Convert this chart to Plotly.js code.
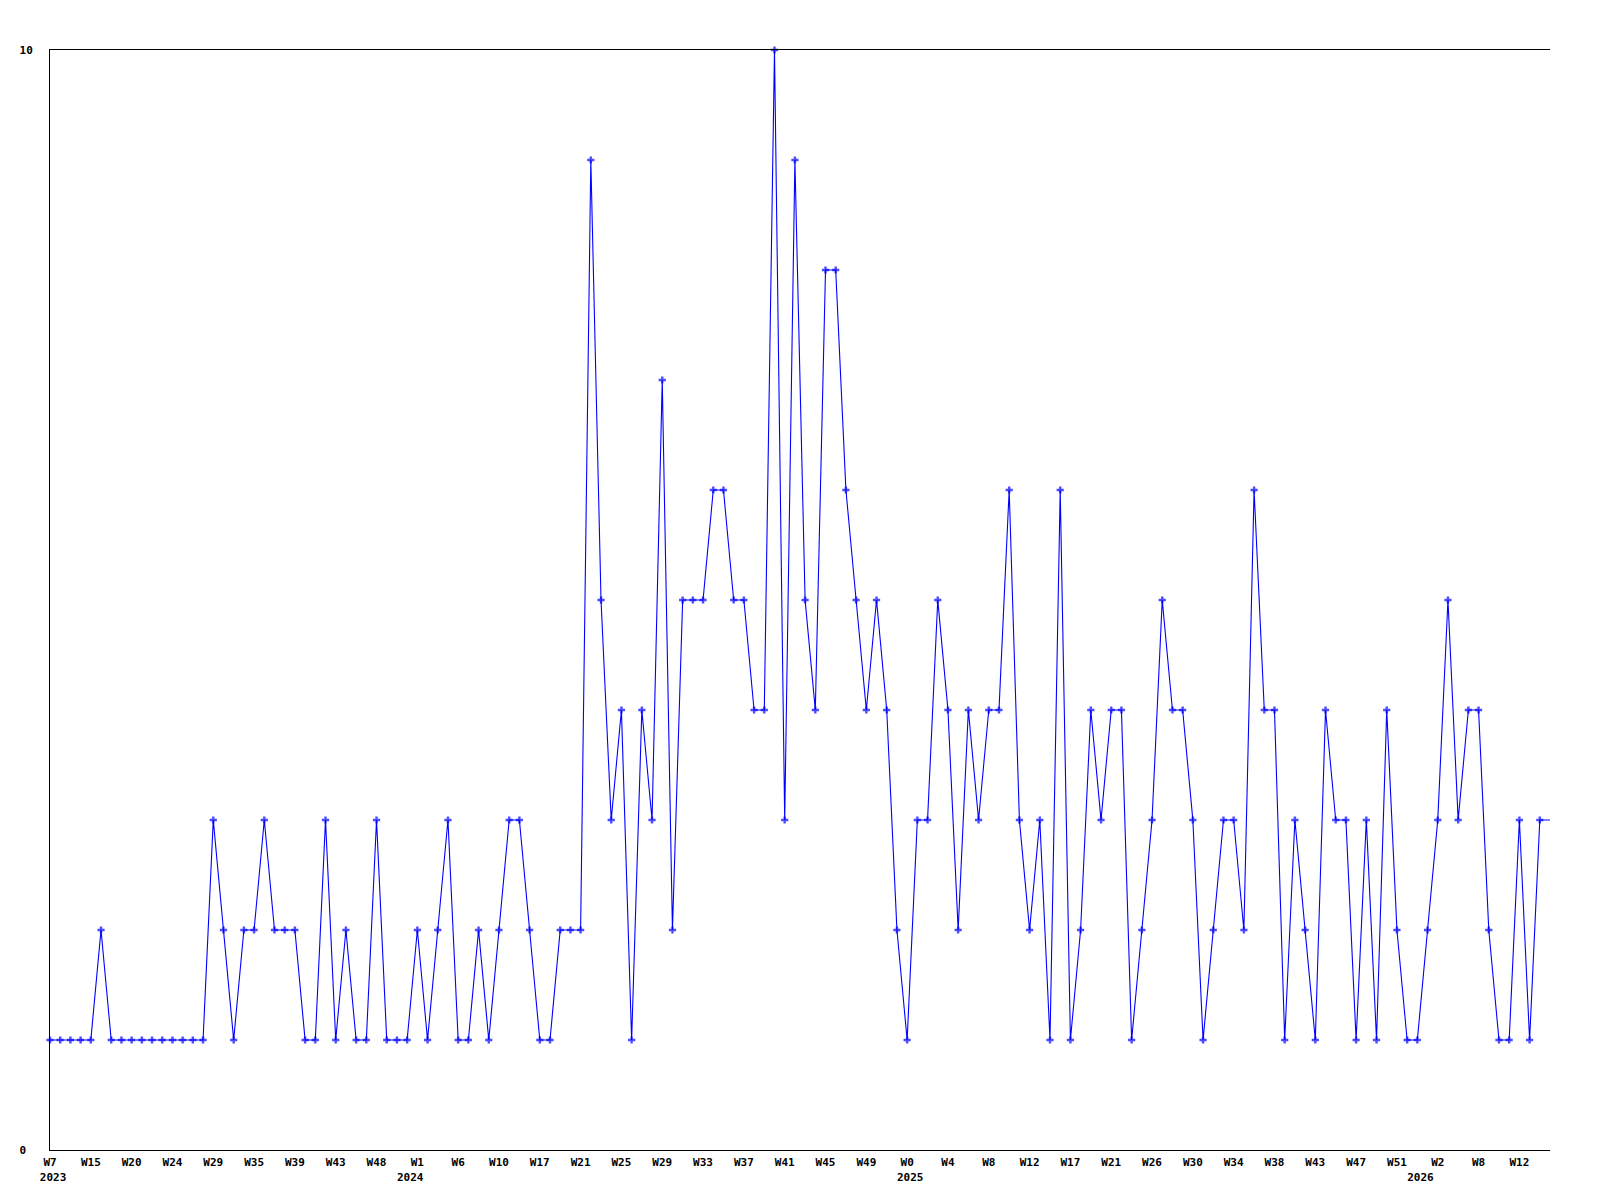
<!DOCTYPE html>
<html>
<head>
<meta charset="utf-8">
<script src="https://cdn.plot.ly/plotly-3.0.1.min.js"></script>
<style>
  html, body { margin: 0; padding: 0; background: #ffffff; }
  #chart { width: 1600px; height: 1200px; }
</style>
</head>
<body>
<div id="chart"></div>
<script>
// Weekly counts, one value per point
const values = [
  1,1,1,1,1,2,1,1,1,1,
  1,1,1,1,1,1,3,2,1,2,
  2,3,2,2,2,1,1,3,1,2,
  1,1,3,1,1,1,2,1,2,3,
  1,1,2,1,2,3,3,2,1,1,
  2,2,2,9,5,3,4,1,4,3,
  7,2,5,5,5,6,6,5,5,4,
  4,10,3,9,5,4,8,8,6,5,
  4,5,4,2,1,3,3,5,4,2,
  4,3,4,4,6,3,2,3,1,6,
  1,2,4,3,4,4,1,2,3,5,
  4,4,3,1,2,3,3,2,6,4,
  4,1,3,2,1,4,3,3,1,3,
  1,4,2,1,1,2,3,5,3,4,
  4,2,1,1,3,1,3,3
];

// Week tick labels: one every 4th point
const weekLabels = ["W7","W15","W20","W24","W29","W35","W39","W43","W48",
  "W1","W6","W10","W17","W21","W25","W29","W33","W37","W41","W45","W49",
  "W0","W4","W8","W12","W17","W21","W26","W30","W34","W38","W43","W47","W51",
  "W2","W8","W12"];
const tickStep = 4;

// Year labels, at the first point of each year
const yearLabels = ["2023", "2024", "2025", "2026"];
const yearStartIndex = [0, 35, 84, 134];

const yTickVals = [0, 10];
const yTickText = ["0\u00a0", "10"];

const xs = values.map((v, i) => i);
const markerSizes = values.map((v, i) => (i === values.length - 1 ? 0 : 6));
const tickVals = weekLabels.map((w, i) => i * tickStep);
const yearTickVals = yearStartIndex.map(i => i + 0.3);

const font = { family: "DejaVu Sans Mono, monospace", size: 11, color: "#000000", weight: "bold" };
const xRange = [0, values.length - 1];

const trace = {
  type: "scatter",
  mode: "lines+markers",
  x: xs,
  y: values,
  line: { color: "#0000ff", width: 1.1 },
  marker: { symbol: "cross", size: markerSizes, color: "#0000ff", line: { width: 0 } },
  cliponaxis: false,
  hoverinfo: "x+y"
};

// invisible helper trace so the year axis is drawn
const yearTrace = {
  type: "scatter",
  mode: "markers",
  x: yearTickVals,
  y: yearTickVals.map(() => 0),
  xaxis: "x2",
  yaxis: "y",
  marker: { size: 0, opacity: 0 },
  hoverinfo: "skip",
  showlegend: false
};

const layout = {
  width: 1600,
  height: 1200,
  margin: { l: 50, r: 50, t: 50, b: 50, pad: 0 },
  paper_bgcolor: "#ffffff",
  plot_bgcolor: "#ffffff",
  showlegend: false,
  font: font,
  xaxis: {
    range: xRange,
    tickmode: "array",
    tickvals: tickVals,
    ticktext: weekLabels,
    showgrid: false,
    zeroline: false,
    showline: true,
    mirror: true,
    linecolor: "#000000",
    linewidth: 1,
    ticks: "",
    tickfont: font,
    tickangle: 0,
    ticklabelstandoff: 2
  },
  xaxis2: {
    overlaying: "x",
    anchor: "y",
    side: "bottom",
    range: xRange,
    tickmode: "array",
    tickvals: yearTickVals,
    ticktext: yearLabels,
    showgrid: false,
    zeroline: false,
    showline: false,
    ticks: "",
    tickfont: font,
    tickangle: 0,
    ticklabelstandoff: 19
  },
  yaxis: {
    range: [0, 10],
    tickmode: "array",
    tickvals: yTickVals,
    ticktext: yTickText,
    showgrid: false,
    zeroline: false,
    showline: true,
    mirror: false,
    linecolor: "#000000",
    linewidth: 1,
    ticks: "",
    tickfont: font,
    ticklabelstandoff: 14
  }
};

Plotly.newPlot("chart", [trace, yearTrace], layout, { displayModeBar: false, staticPlot: true });
</script>
</body>
</html>
